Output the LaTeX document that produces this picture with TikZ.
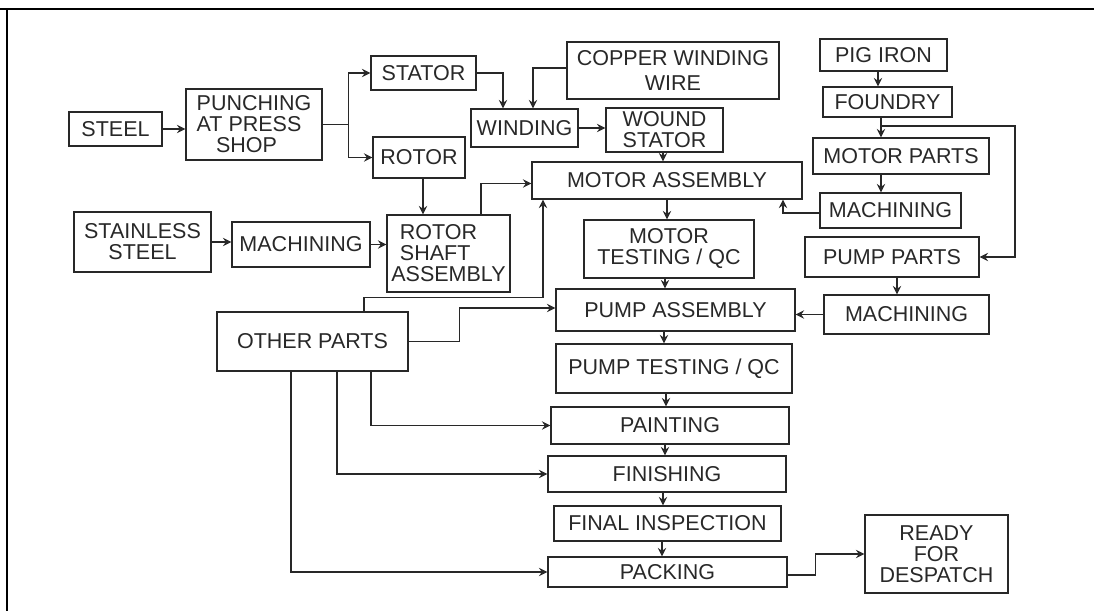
\documentclass[tikz,border=0pt]{standalone}
\usepackage{fontspec}
\setmainfont{Liberation Sans}
\usetikzlibrary{arrows.meta}
\definecolor{ink}{RGB}{40,40,40}

\begin{document}
\begin{tikzpicture}[x=1pt, y=-1pt,
  blk/.style={draw=ink, line width=1.3pt, text=ink, inner sep=2pt, align=center,
    font=\fontsize{21.5}{21}\selectfont},
  flow/.style={draw=ink, line width=1.1pt, -{Stealth[length=8.5pt,width=8.5pt,inset=3pt]}}]
  \useasboundingbox (0,0) rectangle (1094,611);
  % frame
  \draw[line width=2.6pt] (0,9) -- (1094,9);
  \draw[line width=2.6pt] (7,9) -- (7,611);
  % stator and rotor line
  \node[blk, minimum width=93pt, minimum height=34pt] (steel) at (115.5,129) {STEEL};
  \node[blk, align=left, minimum width=136pt, minimum height=71pt] (punch) at (254,124.5)
    {PUNCHING\\AT PRESS\\\hspace*{0.9em}SHOP};
  \node[blk, minimum width=105pt, minimum height=34pt] (stator) at (423.5,73) {STATOR};
  \node[blk, minimum width=92pt, minimum height=41pt] (rotor) at (419,157.5) {ROTOR};
  \node[blk, minimum width=212pt, minimum height=57pt] (copper) at (673,70.5) {COPPER WINDING\\[4pt]WIRE};
  \node[blk, minimum width=107pt, minimum height=38pt] (winding) at (524.5,128) {WINDING};
  \node[blk, minimum width=117pt, minimum height=44pt] (wound) at (664.5,130) {WOUND\\STATOR};
  \node[blk, minimum width=137pt, minimum height=60pt] (stainless) at (142.5,242) {STAINLESS\\STEEL};
  \node[blk, minimum width=138pt, minimum height=45pt] (machss) at (301,244.5) {MACHINING};
  \node[blk, align=left, minimum width=123pt, minimum height=77pt] (shaft) at (448.5,253.5)
    {\hspace*{0.4em}ROTOR\\\hspace*{0.4em}SHAFT\\ASSEMBLY};
  \node[blk, minimum width=191pt, minimum height=59pt] (other) at (312.5,341.5) {OTHER PARTS};
  % cast parts
  \node[blk, minimum width=127pt, minimum height=32pt] (pig) at (883.5,55) {PIG IRON};
  \node[blk, minimum width=129pt, minimum height=30pt] (foundry) at (887.5,102) {FOUNDRY};
  \node[blk, minimum width=176pt, minimum height=36pt] (motparts) at (901,156) {MOTOR PARTS};
  \node[blk, minimum width=141pt, minimum height=35pt] (machmot) at (890.5,210.5) {MACHINING};
  \node[blk, minimum width=174pt, minimum height=40pt] (pumpparts) at (892,257) {PUMP PARTS};
  \node[blk, minimum width=165pt, minimum height=39pt] (machpump) at (906.5,314.5) {MACHINING};
  % main line
  \node[blk, minimum width=270pt, minimum height=37pt] (motasm) at (667,180.5) {MOTOR ASSEMBLY};
  \node[blk, minimum width=170pt, minimum height=58pt] (mottest) at (669,249) {MOTOR\\TESTING / QC};
  \node[blk, minimum width=239pt, minimum height=42pt] (pumpasm) at (675.5,310) {PUMP ASSEMBLY};
  \node[blk, minimum width=236pt, minimum height=49pt] (pumptest) at (674,368.5) {PUMP TESTING / QC};
  \node[blk, minimum width=238pt, minimum height=37pt] (paint) at (670,425.5) {PAINTING};
  \node[blk, minimum width=238pt, minimum height=36pt] (finish) at (667,474) {FINISHING};
  \node[blk, minimum width=227pt, minimum height=35pt] (inspect) at (667.5,523.5) {FINAL INSPECTION};
  \node[blk, minimum width=239pt, minimum height=30pt] (pack) at (667.5,572) {PACKING};
  \node[blk, minimum width=143pt, minimum height=78pt] (ready) at (936.5,554) {READY\\FOR\\DESPATCH};
  \coordinate (fsplit) at (881,126);
  % connectors, left part
  \draw[flow] (steel.east) -- (steel.east -| punch.west);
  \draw[flow] (punch.east) -- ++(26,0) |- (stator.west);
  \draw[flow] (punch.east) -- ++(26,0) |- (rotor.west);
  \draw[flow] (stator.east) -| ([xshift=-21.5pt]winding.north);
  \draw[flow] ([yshift=2.5pt]copper.west) -| ([xshift=8.5pt]winding.north);
  \draw[flow] (winding.east) -- (winding.east -| wound.west);
  \draw[flow] ([xshift=-1.5pt]wound.south) -- ([xshift=-1.5pt]wound.south |- motasm.north);
  \draw[flow] ([xshift=4pt]rotor.south) -- ([xshift=4pt]rotor.south |- shaft.north);
  \draw[flow] ([xshift=32.5pt]shaft.north) |- ([yshift=-3pt]motasm.west);
  \draw[flow] (stainless.east) -- (stainless.east -| machss.west);
  \draw[flow] (machss.east) -- (machss.east -| shaft.west);
  % other parts
  \draw[flow] ([xshift=51.5pt]other.north) -- ++(0,-14) -| ([xshift=-124pt]motasm.south);
  \draw[flow] (other.east) -- ++(51,0) |- ([yshift=2pt]pumpasm.west);
  \draw[flow] ([xshift=58.5pt]other.south) |- (paint.west);
  \draw[flow] ([xshift=24.5pt]other.south) |- (finish.west);
  \draw[flow] ([xshift=-21.5pt]other.south) |- (pack.west);
  % cast parts
  \draw[flow] ([xshift=-5.5pt]pig.south) -- ([xshift=-5.5pt]pig.south |- foundry.north);
  \draw[flow] ([xshift=-6.5pt]foundry.south) -- ([xshift=-6.5pt]foundry.south |- motparts.north);
  \draw[flow] (fsplit) -- ++(134,0) |- (pumpparts.east);
  \draw[flow] ([xshift=-20pt]motparts.south) -- ([xshift=-20pt]motparts.south |- machmot.north);
  \draw[flow] ([yshift=-2.5pt]machmot.west) -| ([xshift=116pt]motasm.south);
  \draw[flow] ([xshift=5pt]pumpparts.south) -- ([xshift=5pt]pumpparts.south |- machpump.north);
  \draw[flow] (machpump.west) -- (machpump.west -| pumpasm.east);
  % main line
  \draw[flow] (motasm.south) -- (motasm.south |- mottest.north);
  \draw[flow] ([xshift=-4pt]mottest.south) -- ([xshift=-4pt]mottest.south |- pumpasm.north);
  \draw[flow] ([xshift=-11.5pt]pumpasm.south) -- ([xshift=-11.5pt]pumpasm.south |- pumptest.north);
  \draw[flow] ([xshift=-8pt]pumptest.south) -- ([xshift=-8pt]pumptest.south |- paint.north);
  \draw[flow] ([xshift=-5pt]paint.south) -- ([xshift=-5pt]paint.south |- finish.north);
  \draw[flow] ([xshift=-4pt]finish.south) -- ([xshift=-4pt]finish.south |- inspect.north);
  \draw[flow] ([xshift=-5.5pt]inspect.south) -- ([xshift=-5.5pt]inspect.south |- pack.north);
  \draw[flow] ([yshift=-3pt]pack.east) -- ++(28,0) |- (ready.west);
\end{tikzpicture}
\end{document}
